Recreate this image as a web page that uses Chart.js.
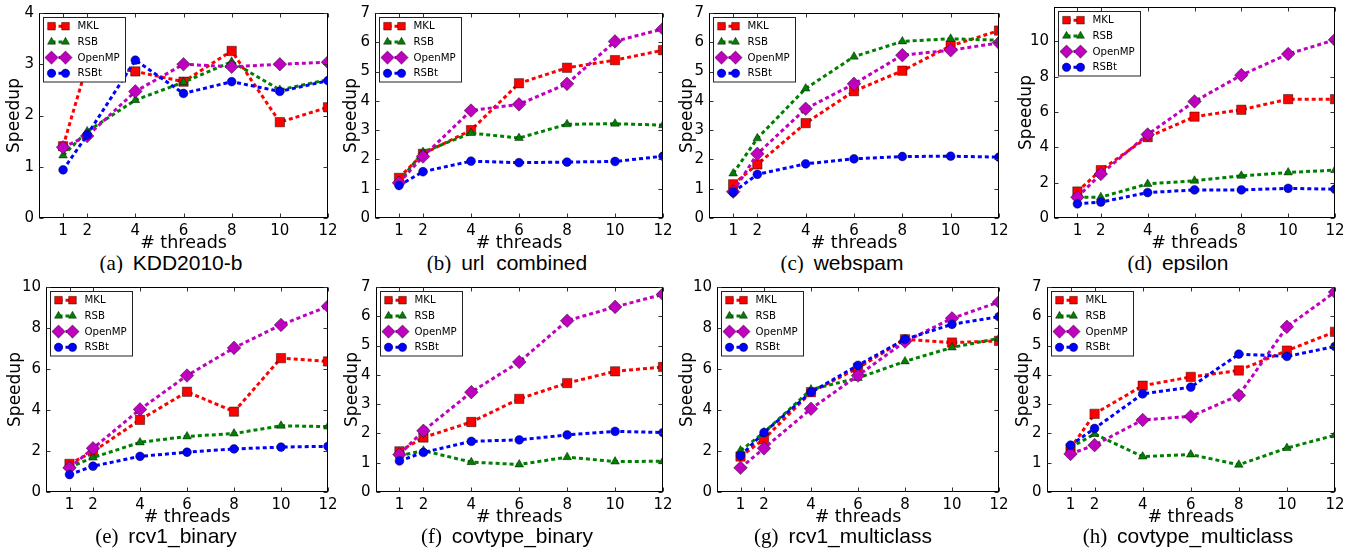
<!DOCTYPE html>
<html><head><meta charset="utf-8">
<script src="https://cdn.jsdelivr.net/npm/chart.js@4.4.0/dist/chart.umd.min.js"></script>
<style>
html,body{margin:0;padding:0;background:#fff;}
body{width:1354px;height:553px;position:relative;overflow:hidden;}
canvas{position:absolute;}
.cap{position:absolute;white-space:nowrap;font-family:'Liberation Sans',Arial,sans-serif;font-size:21px;line-height:21px;color:#000;transform:translateX(-50%);}
.cap .lt{font-family:'Liberation Serif','Times New Roman',serif;margin-right:4px;}
.clip{position:absolute;left:0;top:0;width:1354px;height:273px;overflow:hidden;}
</style></head><body>
<div class="clip" id="row1"></div>
<script>
// ---------- DATA ----------
const threads = [1, 2, 4, 6, 8, 10, 12];
const seriesNames = ['MKL', 'RSB', 'OpenMP', 'RSBt'];
const captionLetters = ['(a)', '(b)', '(c)', '(d)', '(e)', '(f)', '(g)', '(h)'];
const datasetNames = ['KDD2010-b', 'url_combined', 'webspam', 'epsilon', 'rcv1_binary', 'covtype_binary', 'rcv1_multiclass', 'covtype_multiclass'];

const kddMKL    = [1.40, 3.00, 2.86, 2.66, 3.26, 1.87, 2.16];
const kddRSB    = [1.22, 1.69, 2.30, 2.65, 3.05, 2.50, 2.70];
const kddOpenMP = [1.38, 1.60, 2.47, 3.00, 2.95, 3.00, 3.04];
const kddRSBt   = [0.94, 1.62, 3.08, 2.43, 2.66, 2.47, 2.68];

const urlMKL    = [1.37, 2.19, 3.00, 4.60, 5.13, 5.39, 5.73];
const urlRSB    = [1.24, 2.25, 2.90, 2.73, 3.20, 3.22, 3.17];
const urlOpenMP = [1.20, 2.10, 3.67, 3.88, 4.58, 6.03, 6.46];
const urlRSBt   = [1.11, 1.58, 1.94, 1.89, 1.91, 1.93, 2.11];

const webMKL    = [1.15, 1.83, 3.24, 4.33, 5.03, 5.88, 6.40];
const webRSB    = [1.52, 2.72, 4.42, 5.51, 6.03, 6.12, 6.07];
const webOpenMP = [0.90, 2.19, 3.73, 4.58, 5.56, 5.73, 5.98];
const webRSBt   = [0.88, 1.49, 1.85, 2.02, 2.10, 2.11, 2.08];

const epsMKL    = [1.50, 2.71, 4.58, 5.74, 6.13, 6.73, 6.73];
const epsRSB    = [1.18, 1.18, 1.93, 2.11, 2.39, 2.58, 2.71];
const epsOpenMP = [1.18, 2.49, 4.73, 6.60, 8.09, 9.29, 10.09];
const epsRSBt   = [0.80, 0.90, 1.44, 1.59, 1.59, 1.68, 1.63];

const rbinMKL    = [1.37, 1.97, 3.52, 4.89, 3.92, 6.53, 6.37];
const rbinRSB    = [1.21, 1.68, 2.42, 2.71, 2.85, 3.23, 3.19];
const rbinOpenMP = [1.18, 2.13, 4.03, 5.68, 7.03, 8.15, 9.06];
const rbinRSBt   = [0.85, 1.26, 1.74, 1.94, 2.10, 2.19, 2.23];

const cbinMKL    = [1.39, 1.86, 2.39, 3.18, 3.72, 4.12, 4.27];
const cbinRSB    = [1.24, 1.41, 1.02, 0.94, 1.19, 1.04, 1.05];
const cbinOpenMP = [1.28, 2.09, 3.41, 4.44, 5.85, 6.32, 6.75];
const cbinRSBt   = [1.06, 1.35, 1.73, 1.78, 1.95, 2.07, 2.03];

const rmulMKL    = [1.73, 2.58, 4.87, 6.05, 7.45, 7.29, 7.37];
const rmulRSB    = [2.02, 2.90, 5.00, 5.56, 6.37, 7.05, 7.50];
const rmulOpenMP = [1.18, 2.13, 4.06, 5.68, 7.34, 8.47, 9.27];
const rmulRSBt   = [1.77, 2.90, 4.87, 6.18, 7.45, 8.18, 8.55];

const cmulMKL    = [1.49, 2.67, 3.63, 3.93, 4.15, 4.83, 5.47];
const cmulRSB    = [1.52, 1.98, 1.21, 1.28, 0.93, 1.50, 1.94];
const cmulOpenMP = [1.30, 1.60, 2.46, 2.58, 3.30, 5.64, 6.83];
const cmulRSBt   = [1.60, 2.17, 3.35, 3.58, 4.71, 4.63, 4.97];

const yTicks4  = [0, 1, 2, 3, 4];
const yTicks7  = [0, 1, 2, 3, 4, 5, 6, 7];
const yTicks10 = [0, 2, 4, 6, 8, 10];
const yMax4 = 4, yMax7 = 7, yMax10 = 10, yMaxEps = 11.95;

const panelSeries = [
  [kddMKL, kddRSB, kddOpenMP, kddRSBt],
  [urlMKL, urlRSB, urlOpenMP, urlRSBt],
  [webMKL, webRSB, webOpenMP, webRSBt],
  [epsMKL, epsRSB, epsOpenMP, epsRSBt],
  [rbinMKL, rbinRSB, rbinOpenMP, rbinRSBt],
  [cbinMKL, cbinRSB, cbinOpenMP, cbinRSBt],
  [rmulMKL, rmulRSB, rmulOpenMP, rmulRSBt],
  [cmulMKL, cmulRSB, cmulOpenMP, cmulRSBt]
];
const panelYTicks = [yTicks4, yTicks7, yTicks7, yTicks10, yTicks10, yTicks7, yTicks10, yTicks7];
const panelYMax = [yMax4, yMax7, yMax7, yMaxEps, yMax10, yMax7, yMax10, yMax7];

// ---------- LAYOUT / STYLE ----------
const geom = [
  {L:39,  T:11,  R:328,  B:218, off:24,   cx:171,  row:1},
  {L:375, T:11,  R:663,  B:218, off:23,   cx:507,  row:1},
  {L:709, T:11,  R:999,  B:218, off:21,   cx:842,  row:1},
  {L:1054,T:5,   R:1335, B:218, off:27,   cx:1178, row:1},
  {L:46,  T:285, R:328,  B:492, off:30,   cx:166,  row:2},
  {L:375, T:285, R:663,  B:492, off:22.5, cx:507,  row:2},
  {L:717, T:285, R:999,  B:492, off:29,   cx:843,  row:2},
  {L:1046,T:285, R:1335, B:492, off:22.5, cx:1188, row:2}
];
const styles = [
  {color:'#ff0000', point:'rect',     r:6.6, lr:5.4},
  {color:'#008000', point:'triangle', r:5.0, lr:4.6},
  {color:'#bf00bf', point:'rectRot',  r:6.8, lr:6.6},
  {color:'#0000ff', point:'circle',   r:4.4, lr:4.2}
];
const DASH = [4, 3];
const FONT = "'DejaVu Sans', 'Liberation Sans', sans-serif";

function drawMarker(ctx, style, x, y, r, fill) {
  ctx.save();
  ctx.fillStyle = fill;
  ctx.strokeStyle = 'rgba(0,0,0,0.55)';
  ctx.lineWidth = 0.8;
  ctx.setLineDash([]);
  ctx.beginPath();
  if (style === 'rect') {
    const h = r * Math.SQRT1_2;
    ctx.rect(x - h, y - h, 2 * h, 2 * h);
  } else if (style === 'rectRot') {
    ctx.moveTo(x, y - r); ctx.lineTo(x + r, y); ctx.lineTo(x, y + r); ctx.lineTo(x - r, y); ctx.closePath();
  } else if (style === 'triangle') {
    let a = 0;
    ctx.moveTo(x + Math.sin(a) * r, y - Math.cos(a) * r);
    a += 2 * Math.PI / 3;
    ctx.lineTo(x + Math.sin(a) * r, y - Math.cos(a) * r);
    a += 2 * Math.PI / 3;
    ctx.lineTo(x + Math.sin(a) * r, y - Math.cos(a) * r);
    ctx.closePath();
  } else {
    ctx.arc(x, y, r, 0, Math.PI * 2);
  }
  ctx.fill(); ctx.stroke();
  ctx.restore();
}

const framePlugin = {
  id: 'frame',
  afterDraw(chart) {
    const {ctx, chartArea: a} = chart;
    const xs = chart.scales.x, ys = chart.scales.y;
    ctx.save();
    ctx.strokeStyle = '#000'; ctx.lineWidth = 1; ctx.setLineDash([]);
    const l = Math.round(a.left) + 0.5, r = Math.round(a.right) - 0.5;
    const t = Math.round(a.top) + 0.5, b = Math.round(a.bottom) - 0.5;
    ctx.strokeRect(l, t, r - l, b - t);
    const tl = 4;
    ctx.strokeStyle = '#333';
    ctx.beginPath();
    xs.ticks.forEach(tk => {
      const px = Math.round(xs.getPixelForValue(tk.value)) + 0.5;
      ctx.moveTo(px, b); ctx.lineTo(px, b - tl);
      ctx.moveTo(px, t); ctx.lineTo(px, t + tl);
    });
    ys.ticks.forEach(tk => {
      const py = Math.round(ys.getPixelForValue(tk.value)) + 0.5;
      ctx.moveTo(l, py); ctx.lineTo(l + tl, py);
      ctx.moveTo(r, py); ctx.lineTo(r - tl, py);
    });
    ctx.stroke();
    ctx.restore();
  }
};

const legendPlugin = {
  id: 'boxLegend',
  afterDatasetsDraw(chart) {
    const {ctx, chartArea: a} = chart;
    const bx = Math.round(a.left) + 4.5, by = Math.round(a.top) + 4.5;
    const bw = 82, bh = 64.5;
    ctx.save();
    ctx.fillStyle = '#fff';
    ctx.fillRect(bx, by, bw, bh);
    ctx.strokeStyle = '#222'; ctx.lineWidth = 1;
    ctx.strokeRect(bx, by, bw, bh);
    seriesNames.forEach((name, i) => {
      const st = styles[i];
      const yy = by + 8.7 + i * 15.7;
      const x1 = bx + 8, x2 = bx + 22;
      ctx.save();
      ctx.strokeStyle = st.color; ctx.lineWidth = 3; ctx.setLineDash(DASH);
      ctx.beginPath(); ctx.moveTo(x1, yy); ctx.lineTo(x2, yy); ctx.stroke();
      ctx.restore();
      drawMarker(ctx, st.point, x1, yy, st.lr, st.color);
      drawMarker(ctx, st.point, x2, yy, st.lr, st.color);
      ctx.fillStyle = '#000';
      ctx.font = "10.2px " + FONT;
      ctx.textBaseline = 'middle';
      ctx.textAlign = 'left';
      ctx.fillText(name, bx + 34, yy + 0.5);
    });
    ctx.restore();
  }
};

geom.forEach((g, p) => {
  const padTop = 12, padRight = 15, xH = 38;
  const yW = g.off + 12;
  const cl = g.L - yW, ct = g.T - padTop;
  const cw = g.R - cl + padRight, ch = g.B - ct + xH;
  const cv = document.createElement('canvas');
  cv.width = cw; cv.height = ch;
  cv.style.left = cl + 'px'; cv.style.top = ct + 'px';
  cv.style.width = cw + 'px'; cv.style.height = ch + 'px';
  document.body.appendChild(cv);

  const datasets = panelSeries[p].map((vals, i) => ({
    label: seriesNames[i],
    data: threads.map((t, k) => ({x: t, y: vals[k]})),
    borderColor: styles[i].color,
    backgroundColor: styles[i].color,
    borderWidth: 3,
    borderDash: DASH,
    borderCapStyle: 'butt',
    pointStyle: styles[i].point,
    pointRadius: styles[i].r,
    pointBackgroundColor: styles[i].color,
    pointBorderColor: 'rgba(0,0,0,0.55)',
    pointBorderWidth: 0.8,
    fill: false,
    tension: 0,
    clip: 0,
    order: 3 - i
  }));

  const yt = panelYTicks[p];
  new Chart(cv.getContext('2d'), {
    type: 'line',
    data: {datasets},
    options: {
      animation: false, responsive: false, devicePixelRatio: 1,
      layout: {padding: {top: padTop, right: padRight, left: 0, bottom: 0}},
      plugins: {legend: {display: false}, tooltip: {enabled: false}},
      scales: {
        x: {
          type: 'linear', min: 0, max: 12,
          afterBuildTicks: s => { s.ticks = threads.map(v => ({value: v})); },
          afterFit: s => { s.height = xH; },
          grid: {display: false, drawTicks: false},
          border: {display: false},
          ticks: {padding: 4, color: '#000', font: {family: FONT, size: 15}, maxRotation: 0, autoSkip: false},
          title: {display: true, text: '# threads', color: '#000', font: {family: FONT, size: 17.5}, padding: {top: 0, bottom: 2}}
        },
        y: {
          type: 'linear', min: 0, max: panelYMax[p],
          afterBuildTicks: s => { s.ticks = yt.map(v => ({value: v})); },
          afterFit: s => { s.width = yW; },
          grid: {display: false, drawTicks: false},
          border: {display: false},
          ticks: {padding: 5, color: '#000', font: {family: FONT, size: 15}, autoSkip: false},
          title: {display: true, text: 'Speedup', color: '#000', font: {family: FONT, size: 17}, padding: {top: 1.8, bottom: 0}}
        }
      }
    },
    plugins: [framePlugin, legendPlugin]
  });

  const cap = document.createElement('div');
  cap.className = 'cap';
  const lt = document.createElement('span');
  lt.className = 'lt';
  lt.textContent = captionLetters[p];
  cap.appendChild(lt);
  cap.appendChild(document.createTextNode(' ' + datasetNames[p]));
  cap.style.left = g.cx + 'px';
  if (g.row === 1) {
    cap.style.top = '252px';
    document.getElementById('row1').appendChild(cap);
  } else {
    cap.style.top = '525px';
    document.body.appendChild(cap);
  }
});
</script>
</body></html>
